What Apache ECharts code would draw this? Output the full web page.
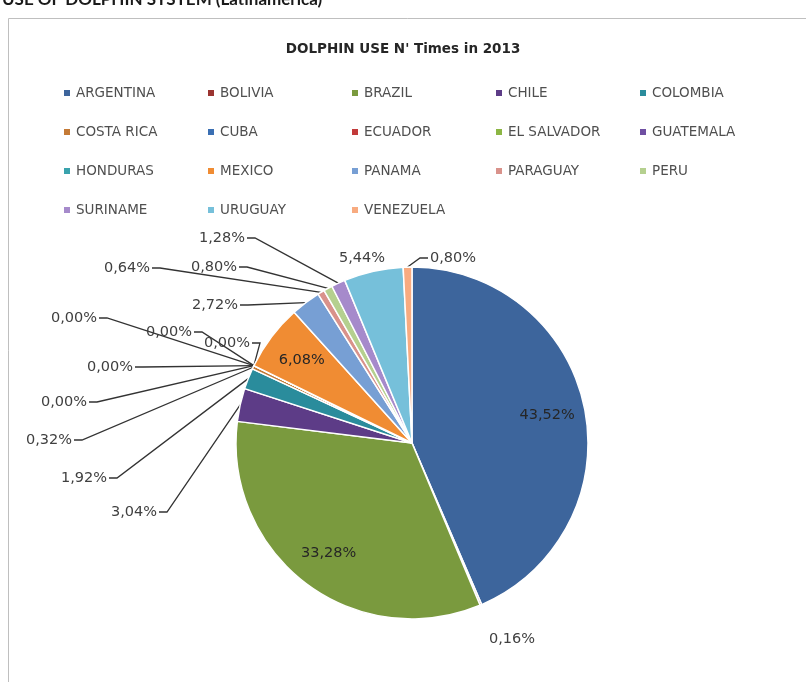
<!DOCTYPE html>
<html>
<head>
<meta charset="utf-8">
<script src="https://cdn.jsdelivr.net/npm/echarts@6/dist/echarts.min.js"></script>
<style>
  html, body { margin: 0; padding: 0; background: #ffffff; }
  #main { width: 806px; height: 682px; }
</style>
</head>
<body>
<div id="main"></div>
<script>
var countries = [
  'ARGENTINA', 'BOLIVIA', 'BRAZIL', 'CHILE', 'COLOMBIA',
  'COSTA RICA', 'CUBA', 'ECUADOR', 'EL SALVADOR', 'GUATEMALA',
  'HONDURAS', 'MEXICO', 'PANAMA', 'PARAGUAY', 'PERU',
  'SURINAME', 'URUGUAY', 'VENEZUELA'
];
// share of uses in 2013, in %
var shares = [
  43.52, 0.16, 33.28, 3.04, 1.92,
  0.32, 0.00, 0.00, 0.00, 0.00,
  0.00, 6.08, 2.72, 0.64, 0.80,
  1.28, 5.44, 0.80
];
// big slices get their label inside
var insideNames = ['ARGENTINA', 'BRAZIL', 'MEXICO'];

var colors = [
  '#3d659c', '#9b3431', '#7a9a3e', '#5d3c87', '#2a8c9c',
  '#c47a36', '#3a6fb3', '#c23a3a', '#8cb644', '#6f4fa2',
  '#3aa3ad', '#f08c33', '#779fd4', '#d9928b', '#b5d08f',
  '#a68acb', '#76c0da', '#f8ab80'
];

var CX = 412, CY = 443, R = 176;

// where the outside labels sit (as in the original Excel chart):
// [x, y, align, show leader line]
var labelSpot = {
  'BOLIVIA': [512, 639, 'center', false],
  'CHILE': [157, 512, 'right', true],
  'COLOMBIA': [107, 478, 'right', true],
  'COSTA RICA': [72, 440, 'right', true],
  'CUBA': [87, 402, 'right', true],
  'ECUADOR': [133, 367, 'right', true],
  'EL SALVADOR': [97, 318, 'right', true],
  'GUATEMALA': [192, 332, 'right', true],
  'HONDURAS': [250, 343, 'right', true],
  'PANAMA': [238, 305, 'right', true],
  'PARAGUAY': [150, 268, 'right', true],
  'PERU': [237, 267, 'right', true],
  'SURINAME': [245, 238, 'right', true],
  'URUGUAY': [362, 258, 'center', false],
  'VENEZUELA': [430, 258, 'left', true]
};

var chart = echarts.init(document.getElementById('main'));

function pct(v) {
  return v.toFixed(2).replace('.', ',') + '%';
}

var total = 0;
for (var k = 0; k < shares.length; k++) total += shares[k];

// point on the rim in the middle of slice i
function rimPoint(i) {
  var before = 0;
  for (var j = 0; j < i; j++) before += shares[j];
  var a = (before + shares[i] / 2) / total * 2 * Math.PI;
  return [CX + R * Math.sin(a), CY - R * Math.cos(a)];
}

var mainData = [];
var ghostData = [];
for (var i = 0; i < countries.length; i++) {
  var inside = insideNames.indexOf(countries[i]) >= 0;
  var spot = labelSpot[countries[i]];
  mainData.push({
    name: countries[i],
    value: shares[i],
    label: { show: !inside },
    labelLine: { show: !inside && !!(spot && spot[3]) }
  });
  ghostData.push({
    name: countries[i],
    value: shares[i],
    label: { show: inside }
  });
}

function legendRow(names, top) {
  return {
    data: names,
    left: 57,
    top: top,
    orient: 'horizontal',
    icon: 'rect',
    itemWidth: 8,
    itemHeight: 8,
    itemGap: 0,
    selectedMode: false,
    textStyle: {
      fontFamily: 'DejaVu Sans',
      fontSize: 13.5,
      color: '#4f4f4f',
      width: 130,
      lineHeight: 14
    }
  };
}

var option = {
  backgroundColor: '#FFFFFF',
  color: colors,
  title: {
    text: "DOLPHIN USE N' Times in 2013",
    left: 'center',
    top: 37,
    textStyle: {
      fontFamily: 'DejaVu Sans',
      fontSize: 13.5,
      fontWeight: 'bold',
      color: '#262626'
    }
  },
  graphic: [
    {
      type: 'rect',
      shape: { x: 8.5, y: 18.5, width: 820, height: 700 },
      style: { fill: 'none', stroke: '#bfbfbf', lineWidth: 1 },
      silent: true
    },
    {
      type: 'text',
      x: 2,
      y: -9,
      style: {
        text: 'USE OF DOLPHIN SYSTEM (Latinamerica)',
        font: 'bold 17px Lato',
        fill: '#1a1a1a'
      },
      silent: true
    }
  ],
  legend: [
    legendRow(countries.slice(0, 5), 81),
    legendRow(countries.slice(5, 10), 120),
    legendRow(countries.slice(10, 15), 159),
    legendRow(countries.slice(15, 18), 198)
  ],
  series: [
    {
      name: 'Dolphin use',
      type: 'pie',
      center: [CX, CY],
      radius: [0, R],
      startAngle: 90,
      clockwise: true,
      avoidLabelOverlap: false,
      stillShowZeroSum: true,
      minShowLabelAngle: 0,
      itemStyle: { borderColor: '#ffffff', borderWidth: 1.5 },
      label: {
        position: 'outside',
        formatter: function (p) { return pct(p.value); },
        fontFamily: 'DejaVu Sans',
        fontSize: 14.5,
        color: '#404040'
      },
      labelLine: {
        length: 10,
        length2: 10,
        lineStyle: { color: '#333333', width: 1.3 }
      },
      labelLayout: function (params) {
        var name = countries[params.dataIndex];
        var spot = labelSpot[name];
        if (!spot) return {};
        var x = spot[0], y = spot[1], align = spot[2];
        var res = { x: x, y: y, align: align, verticalAlign: 'middle' };
        if (spot[3]) {
          var rim = rimPoint(params.dataIndex);
          if (align === 'left') {
            res.labelLinePoints = [rim, [x - 10, y], [x - 2, y]];
          } else {
            res.labelLinePoints = [rim, [x + 10, y], [x + 2, y]];
          }
        }
        return res;
      },
      emphasis: { scale: false },
      data: mainData
    },
    {
      name: 'labels',
      type: 'pie',
      center: [CX, CY],
      radius: [94, R],
      startAngle: 90,
      clockwise: true,
      silent: true,
      stillShowZeroSum: true,
      itemStyle: { color: 'rgba(0,0,0,0)', borderWidth: 0 },
      label: {
        position: 'inside',
        formatter: function (p) { return pct(p.value); },
        fontFamily: 'DejaVu Sans',
        fontSize: 14.5,
        color: '#262626'
      },
      labelLine: { show: false },
      data: ghostData
    }
  ]
};

chart.setOption(option);
window.addEventListener('resize', function () {
  chart.resize();
});
</script>
</body>
</html>
